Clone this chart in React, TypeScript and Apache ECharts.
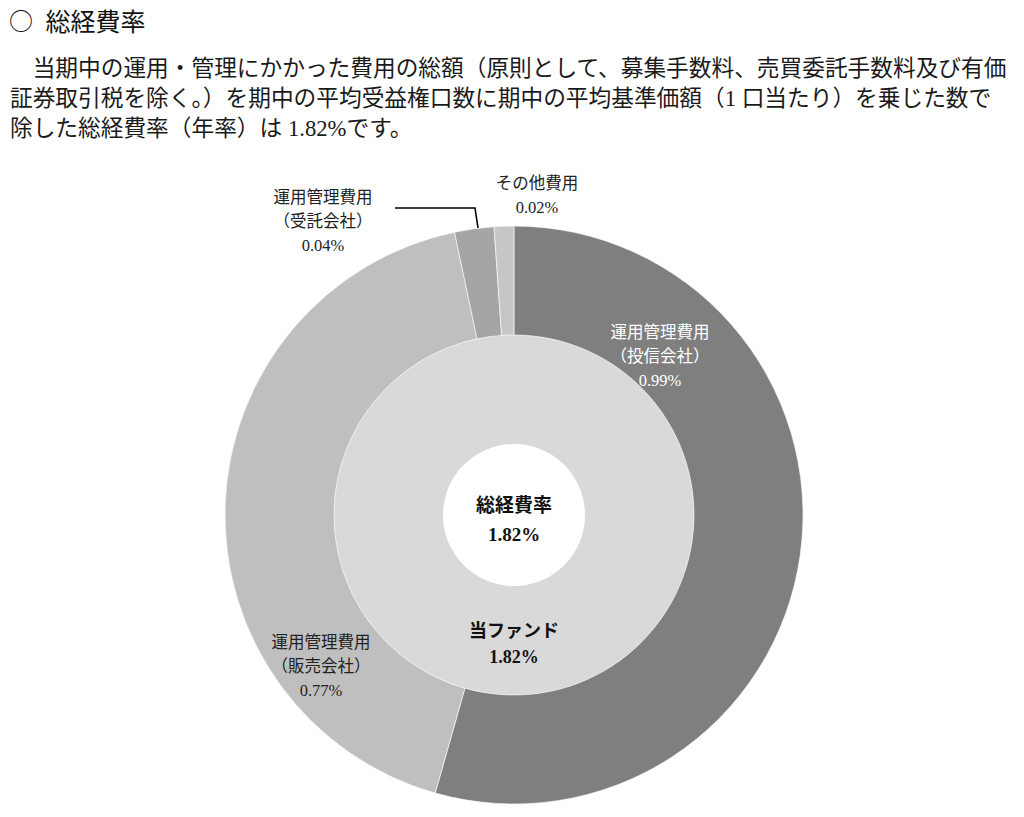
import React, { useEffect, useRef } from "react";
import * as echarts from "echarts";

const titleMark = "○";
const titleText = "総経費率";
const bodyLines = [
  "　当期中の運用・管理にかかった費用の総額（原則として、募集手数料、売買委託手数料及び有価",
  "証券取引税を除く。）を期中の平均受益権口数に期中の平均基準価額（1 口当たり）を乗じた数で",
  "除した総経費率（年率）は 1.82%です。",
];
const categories = [
  "運用管理費用\n（投信会社）",
  "運用管理費用\n（販売会社）",
  "運用管理費用\n（受託会社）",
  "その他費用",
];
const values = [0.99, 0.77, 0.04, 0.02];
const sliceColors = ["#7f7f7f", "#bfbfbf", "#a5a5a5", "#c6c6c6"];
const fundName = "当ファンド";
const fundValue = 1.82;
const centerTitle = "総経費率";
const centerValue = "1.82%";

const FONT = "'Liberation Serif', 'Noto Sans CJK JP', serif";

export default function App() {
  const ref = useRef<HTMLDivElement>(null);
  useEffect(() => {
    if (!ref.current) return;
    const chart = echarts.init(ref.current, undefined, { renderer: "svg" });
    const cx = 514;
    const cy = 515;
    const labelSpots: Record<number, any> = {
      0: { x: 660, y: 356, align: "center", verticalAlign: "middle" },
      1: { x: 321, y: 666, align: "center", verticalAlign: "middle" },
      2: {
        x: 323,
        y: 221,
        align: "center",
        verticalAlign: "middle",
        labelLinePoints: [
          [478, 228],
          [475, 208],
          [395, 208],
        ],
      },
      3: { x: 537, y: 195, align: "center", verticalAlign: "middle" },
    };
    const outerData = categories.map((name, i) => ({
      name,
      value: values[i],
      itemStyle: { color: sliceColors[i] },
      label: { color: i === 0 ? "#ffffff" : "#222222" },
      labelLine: {
        show: i === 2,
        lineStyle: { color: "#000000", width: 1.6 },
      },
    }));
    chart.setOption({
      animation: false,
      backgroundColor: "#ffffff",
      graphic: [
        {
          type: "text",
          left: 9,
          top: 7,
          style: {
            text: `{m|${titleMark}} ${titleText}`,
            fontSize: 25,
            fontFamily: "'Noto Sans CJK JP', sans-serif",
            fill: "#111111",
            rich: {
              m: {
                fontSize: 24,
                fontFamily: "'Noto Sans CJK JP', sans-serif",
                padding: [0, 7, 0, 0],
              },
            },
          },
        },
        ...bodyLines.map((t, i) => ({
          type: "text",
          left: 10,
          top: 57 + i * 30,
          style: {
            text: t,
            fontSize: 22.7,
            fontFamily: FONT,
            fill: "#1a1a1a",
          },
        })),
        {
          type: "text",
          x: cx,
          y: cy + 5,
          style: {
            text: `${centerTitle}\n${centerValue}`,
            fontSize: 19,
            fontWeight: "bold",
            fontFamily: FONT,
            lineHeight: 29,
            align: "center",
            verticalAlign: "middle",
            fill: "#111111",
          },
        },
      ],
      series: [
        {
          type: "pie",
          center: [cx, cy],
          radius: [71, 180],
          startAngle: 90,
          silent: true,
          data: [{ name: fundName, value: fundValue }],
          itemStyle: { color: "#d9d9d9" },
          label: {
            show: true,
            position: "inside",
            formatter: (p: any) => `${p.name}\n${p.value.toFixed(2)}%`,
            fontSize: 18,
            fontWeight: "bold",
            fontFamily: FONT,
            lineHeight: 26,
            color: "#111111",
          },
          labelLine: { show: false },
        },
        {
          type: "pie",
          center: [cx, cy],
          radius: [180, 289],
          startAngle: 90,
          clockwise: true,
          silent: true,
          data: outerData,
          itemStyle: { borderColor: "#ffffff", borderWidth: 0.6 },
          label: {
            show: true,
            position: "outside",
            formatter: (p: any) => `${p.name}\n${p.value.toFixed(2)}%`,
            fontSize: 16.5,
            fontFamily: FONT,
            lineHeight: 24,
          },
          labelLayout: (params: any) => labelSpots[params.dataIndex] || {},
        },
      ],
    });
    return () => chart.dispose();
  }, []);
  return (
    <div
      ref={ref}
      style={{ position: "fixed", left: 0, top: 0, width: 1024, height: 817 }}
    />
  );
}
